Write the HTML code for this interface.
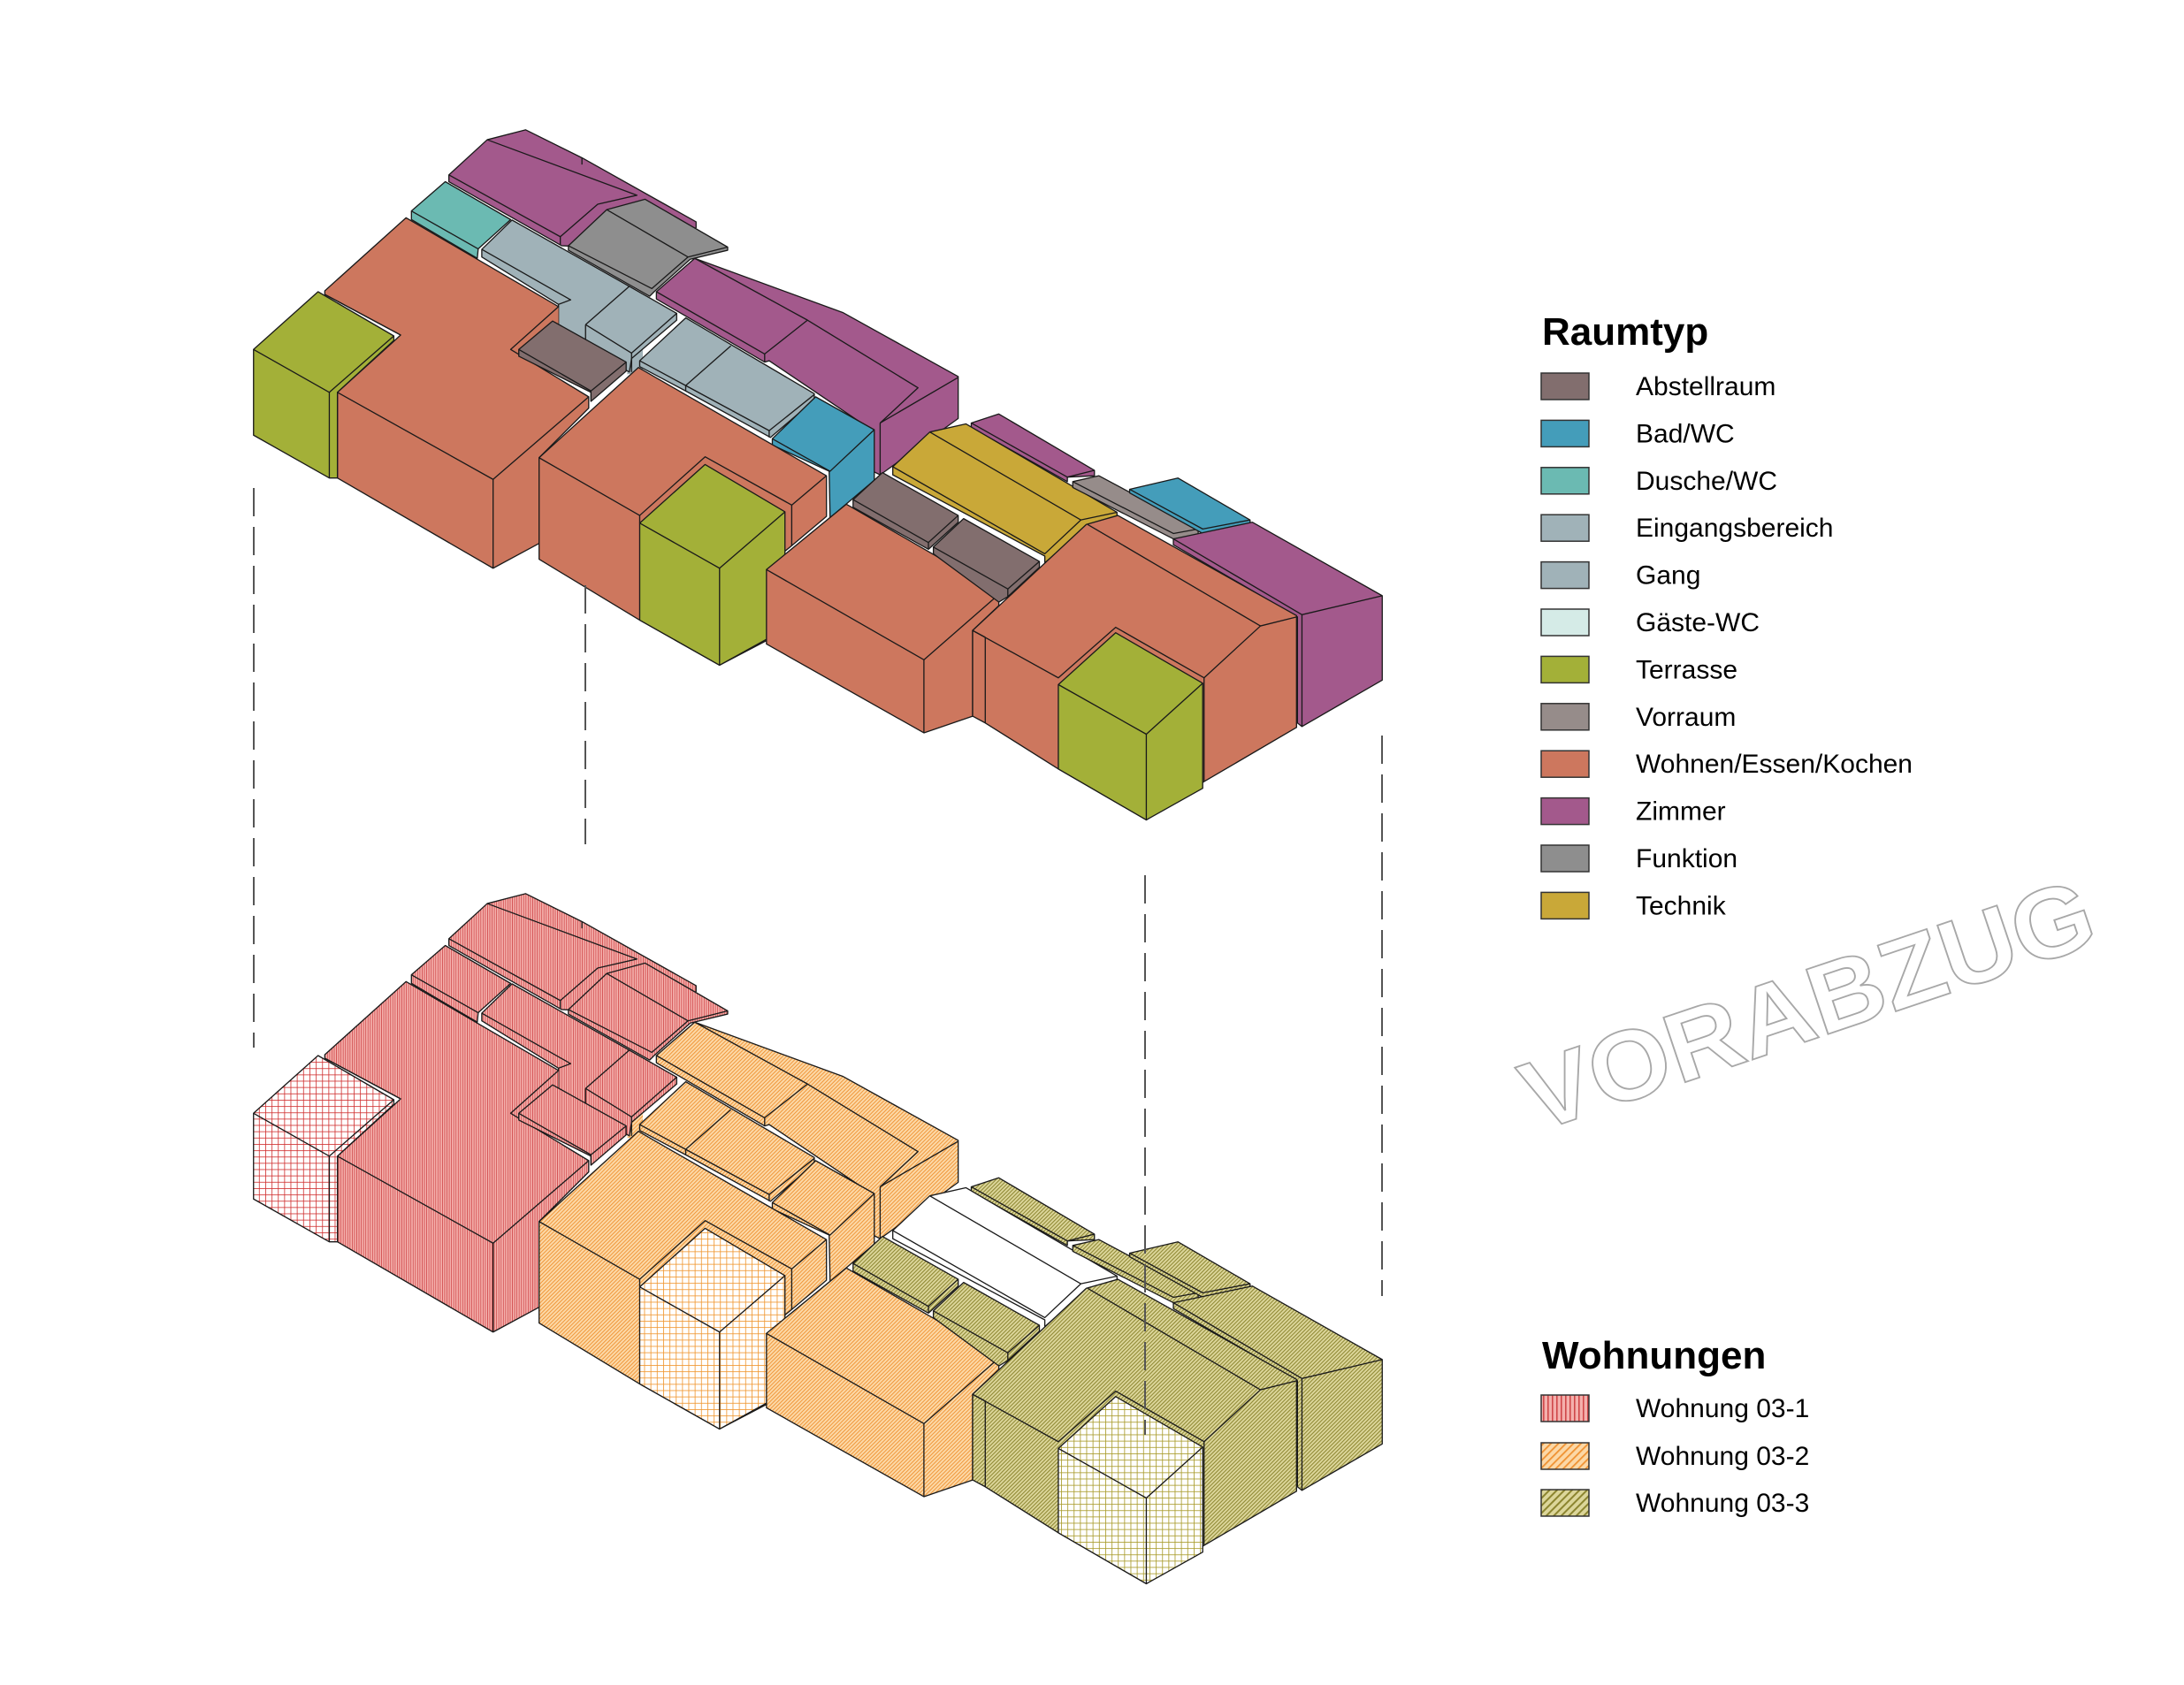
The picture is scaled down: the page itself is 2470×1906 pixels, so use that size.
<!DOCTYPE html>
<html><head><meta charset="utf-8"><style>
html,body{margin:0;padding:0;background:#fff}
svg{display:block}
.t{font-family:"Liberation Sans",sans-serif}
#B polygon{stroke:#1a1a1a;stroke-width:2.6;stroke-linejoin:round}
#B polygon.nf{stroke:none}
#B polyline,#B line{stroke:#1a1a1a;stroke-width:2.6;fill:none;stroke-linejoin:round}
.top{--zim:#a3598c;--dus:#6bbab2;--fun:#8e8e8e;--gang1:#a0b2b8;--gang2:#a0b2b8;--zim2:#a3598c;--woh1:#cd775e;--abs1:#826e6e;--ter1:#a3b038;--woh2:#cd775e;--ter2:#a3b038;--bad1:#449dba;--zim3:#a3598c;--tec:#c9a838;--vor:#968c8a;--bad2:#449dba;--abs2:#826e6e;--woh3:#cd775e;--zim4:#a3598c;--woh4:#cd775e;--ter3:#a3b038}
.bot{--zim:url(#p1);--dus:url(#p1);--fun:url(#p1);--gang1:url(#p1);--gang2:url(#p2);--zim2:url(#p2);--woh1:url(#p1);--abs1:url(#p1);--ter1:url(#g1);--woh2:url(#p2);--ter2:url(#g2);--bad1:url(#p2);--zim3:url(#p3);--tec:#fff;--vor:url(#p3);--bad2:url(#p3);--abs2:url(#p3);--woh3:url(#p2);--zim4:url(#p3);--woh4:url(#p3);--ter3:url(#g3)}
</style></head><body>
<svg width="2470" height="1906" viewBox="0 0 2470 1906" xmlns="http://www.w3.org/2000/svg">
<defs>
<pattern id="p1" width="5" height="5" patternUnits="userSpaceOnUse"><rect width="5" height="5" fill="#f4b0ac"/><rect width="1.6" height="5" fill="#d0484a"/></pattern>
<pattern id="p2" width="6" height="6" patternUnits="userSpaceOnUse" patternTransform="rotate(45)"><rect width="6" height="6" fill="#fcd8a6"/><rect width="1.8" height="6" fill="#ef9233"/></pattern>
<pattern id="p3" width="6" height="6" patternUnits="userSpaceOnUse" patternTransform="rotate(45)"><rect width="6" height="6" fill="#dcd69a"/><rect width="2" height="6" fill="#8c8530"/></pattern>
<pattern id="g1" width="14" height="14" patternUnits="userSpaceOnUse"><rect width="14" height="14" fill="#fff"/><rect width="1.6" height="14" fill="#d03030"/><rect width="14" height="1.6" fill="#d03030"/></pattern>
<pattern id="g2" width="14" height="14" patternUnits="userSpaceOnUse"><rect width="14" height="14" fill="#fff"/><rect width="1.6" height="14" fill="#f0962e"/><rect width="14" height="1.6" fill="#f0962e"/></pattern>
<pattern id="g3" width="14" height="14" patternUnits="userSpaceOnUse"><rect width="14" height="14" fill="#fff"/><rect width="1.6" height="14" fill="#a89a28"/><rect width="14" height="1.6" fill="#a89a28"/></pattern>
<g id="B">
<g transform="translate(250,130) scale(0.5102)">
<polygon style="fill:var(--zim)" points="505,133 590,55 675,33 800,95 1053,237 1053,250 965,300 755,290 505,148"/>
<polyline points="590,55 922,178 835,198 752,270 505,133"/><polyline points="752,270 752,288"/><polyline points="800,95 800,110"/>
<polygon style="fill:var(--dus)" points="422,213 497,148 642,232 570,297 568,318 422,232"/>
<polyline points="422,213 570,297"/>
<polygon style="fill:var(--fun)" points="770,290 855,210 940,187 1123,293 1123,300 1040,320 960,392 950,402 770,300"/>
<polyline points="855,210 1035,315 955,385 770,290"/><polyline points="1035,315 1123,293"/>
<polygon class="nf" style="fill:var(--gang2)" points="900,575 905,530 935,520 935,570"/>
<polygon style="fill:var(--gang1)" points="578,298 645,233 905,380 1010,440 1010,455 910,540 905,570 808,515 748,478 748,420 578,315"/>
<polyline points="578,298 775,410 748,420"/><polyline points="808,465 905,380"/><polyline points="808,465 808,515"/><polyline points="808,465 910,528 1010,440"/><polyline points="910,528 910,570"/>
<polygon style="fill:var(--gang2)" points="928,545 1030,450 1315,618 1315,632 1218,715 1030,612 928,558"/>
<polyline points="928,545 1030,600 1130,512"/><polyline points="1030,600 1030,612"/><polyline points="1030,600 1215,700 1315,620"/><polyline points="1215,700 1215,715"/>
<polygon style="fill:var(--zim2)" points="965,392 1050,318 1378,438 1634,580 1634,673 1461,798 1445,790 1445,700 1215,545 1205,548 965,408"/>
<polyline points="965,392 1205,530 1300,455 1545,605 1461,683"/><polyline points="1050,318 1300,455"/><polyline points="1205,530 1205,548"/><polyline points="1461,683 1634,582"/><polyline points="1461,683 1461,798"/>
<polygon class="nf" style="fill:var(--woh1)" points="642,520 748,425 748,478 808,515 820,612 660,535"/>
<polygon style="fill:var(--woh1)" points="230,390 410,228 748,425 642,520 815,625 815,650 705,760 705,950 603,1005 258,805 258,615 385,500 398,488 230,398"/>
<polyline points="258,615 603,808 815,625"/><polyline points="603,808 603,1005"/><polyline points="230,398 398,488"/>
<polygon style="fill:var(--abs1)" points="660,520 735,457 898,548 898,568 820,635 820,615 660,535"/>
<polyline points="660,520 820,612 898,548"/><polyline points="820,612 820,635"/>
<polygon style="fill:var(--ter1)" points="72,520 215,392 383,490 383,500 258,615 258,805 240,805 72,710"/>
<polyline points="72,520 240,615 383,490"/><polyline points="240,615 240,805"/>
<polygon style="fill:var(--bad1)" points="1222,718 1318,625 1448,698 1448,810 1350,893 1348,790 1222,732"/>
<polyline points="1222,718 1350,790 1448,698"/>
<polygon style="fill:var(--woh2)" points="705,760 925,560 1342,800 1342,890 1265,955 1210,1000 1210,1165 1105,1220 928,1120 705,985"/>
<polyline points="705,760 928,888 1073,758 1265,865 1342,800"/><polyline points="1265,865 1265,955"/><polyline points="928,888 928,905"/>
<polygon style="fill:var(--ter2)" points="928,905 1073,775 1250,880 1250,1140 1105,1220 928,1120"/>
<polyline points="928,905 1105,1005 1250,880"/><polyline points="1105,1005 1105,1220"/>
</g>
<g transform="translate(850,430) scale(0.5102)">
<polygon style="fill:var(--zim3)" points="487,95 548,75 760,200 760,212 700,215 700,225 487,105"/>
<polyline points="487,95 700,215 760,200"/>
<polygon style="fill:var(--tec)" points="313,192 395,115 475,97 810,293 810,303 742,325 650,405 650,390 313,210"/>
<polyline points="395,115 730,310 650,385 313,192"/><polyline points="730,310 810,293"/>
<polygon style="fill:var(--vor)" points="712,225 770,212 990,330 990,342 935,352 712,238"/>
<polyline points="712,225 935,340 990,330"/>
<polygon style="fill:var(--bad2)" points="838,242 945,217 1105,310 1105,318 1000,340 838,250"/>
<polyline points="838,242 1000,330 1105,310"/>
<polygon style="fill:var(--woh3)" points="33,420 210,275 548,470 548,500 490,555 490,745 382,782 33,585"/>
<polyline points="33,420 382,620 548,475"/><polyline points="382,620 382,782"/>
<polygon style="fill:var(--abs2)" points="225,265 290,205 458,300 458,315 392,375 225,282"/>
<polyline points="225,265 392,360 458,300"/><polyline points="392,360 392,375"/>
<polygon style="fill:var(--abs2)" points="403,370 470,307 638,402 638,415 568,480 548,492 403,385"/>
<polyline points="403,370 568,463 638,402"/><polyline points="568,463 568,480"/>
<polygon style="fill:var(--zim4)" points="935,352 1110,315 1398,478 1398,665 1220,768 1210,760 1210,525 935,365"/>
<polyline points="935,352 1220,520 1398,478"/><polyline points="1220,520 1220,768"/>
<polygon style="fill:var(--woh4)" points="490,555 742,320 812,300 1208,522 1208,770 1003,890 875,975 680,862 518,760 490,745"/>
<polyline points="490,555 680,660 807,548 1003,660 1128,545 1208,525"/><polyline points="745,320 1128,545"/><polyline points="518,570 518,760"/><polyline points="1003,660 1003,890"/><polyline points="490,555 518,570"/>
<polygon style="fill:var(--ter3)" points="680,675 807,560 1000,672 1000,905 875,975 680,862"/>
<polyline points="680,675 875,785 1000,672"/><polyline points="875,785 875,975"/>
</g>
</g>
</defs>
<use href="#B" class="top"/>
<use href="#B" class="bot" transform="translate(0,864)"/>
<g stroke="#555" stroke-width="2" stroke-dasharray="32 12" fill="none">
<line x1="287" y1="552" x2="287" y2="1185"/>
<line x1="662" y1="662" x2="662" y2="955"/>
<line x1="1295" y1="990" x2="1295" y2="1623"/>
<line x1="1563" y1="832" x2="1563" y2="1466"/>
</g>
<text class="t" x="1737" y="1281" transform="rotate(-18.6 1737 1281)" font-size="112" font-weight="bold" fill="none" stroke="#a8a8a8" stroke-width="1.8" textLength="675" lengthAdjust="spacingAndGlyphs">VORABZUG</text>
<g class="t">
<text x="1744" y="390" font-size="44" font-weight="bold" fill="#000">Raumtyp</text>
<g stroke="#333" stroke-width="1.5">
<rect x="1743" y="422" width="54" height="30" fill="#826e6e"/>
<rect x="1743" y="475.4" width="54" height="30" fill="#449dba"/>
<rect x="1743" y="528.8" width="54" height="30" fill="#6bbab2"/>
<rect x="1743" y="582.2" width="54" height="30" fill="#a0b2b8"/>
<rect x="1743" y="635.6" width="54" height="30" fill="#a0b2b8"/>
<rect x="1743" y="689" width="54" height="30" fill="#d5ebe7"/>
<rect x="1743" y="742.4" width="54" height="30" fill="#a3b038"/>
<rect x="1743" y="795.8" width="54" height="30" fill="#968c8a"/>
<rect x="1743" y="849.2" width="54" height="30" fill="#cd775e"/>
<rect x="1743" y="902.6" width="54" height="30" fill="#a3598c"/>
<rect x="1743" y="956" width="54" height="30" fill="#8e8e8e"/>
<rect x="1743" y="1009.4" width="54" height="30" fill="#c9a838"/>
</g>
<g font-size="30" fill="#000">
<text x="1850" y="447">Abstellraum</text>
<text x="1850" y="500.4">Bad/WC</text>
<text x="1850" y="553.8">Dusche/WC</text>
<text x="1850" y="607.2">Eingangsbereich</text>
<text x="1850" y="660.6">Gang</text>
<text x="1850" y="714">Gäste-WC</text>
<text x="1850" y="767.4">Terrasse</text>
<text x="1850" y="820.8">Vorraum</text>
<text x="1850" y="874.2">Wohnen/Essen/Kochen</text>
<text x="1850" y="927.6">Zimmer</text>
<text x="1850" y="981">Funktion</text>
<text x="1850" y="1034.4">Technik</text>
</g>
<text x="1744" y="1548" font-size="44" font-weight="bold" fill="#000">Wohnungen</text>
<g stroke="#333" stroke-width="1.5">
<rect x="1743" y="1578" width="54" height="30" fill="url(#p1)"/>
<rect x="1743" y="1632" width="54" height="30" fill="url(#p2)"/>
<rect x="1743" y="1685" width="54" height="30" fill="url(#p3)"/>
</g>
<g font-size="30" fill="#000">
<text x="1850" y="1603">Wohnung 03-1</text>
<text x="1850" y="1657">Wohnung 03-2</text>
<text x="1850" y="1710">Wohnung 03-3</text>
</g>
</g>
</svg>
</body></html>
